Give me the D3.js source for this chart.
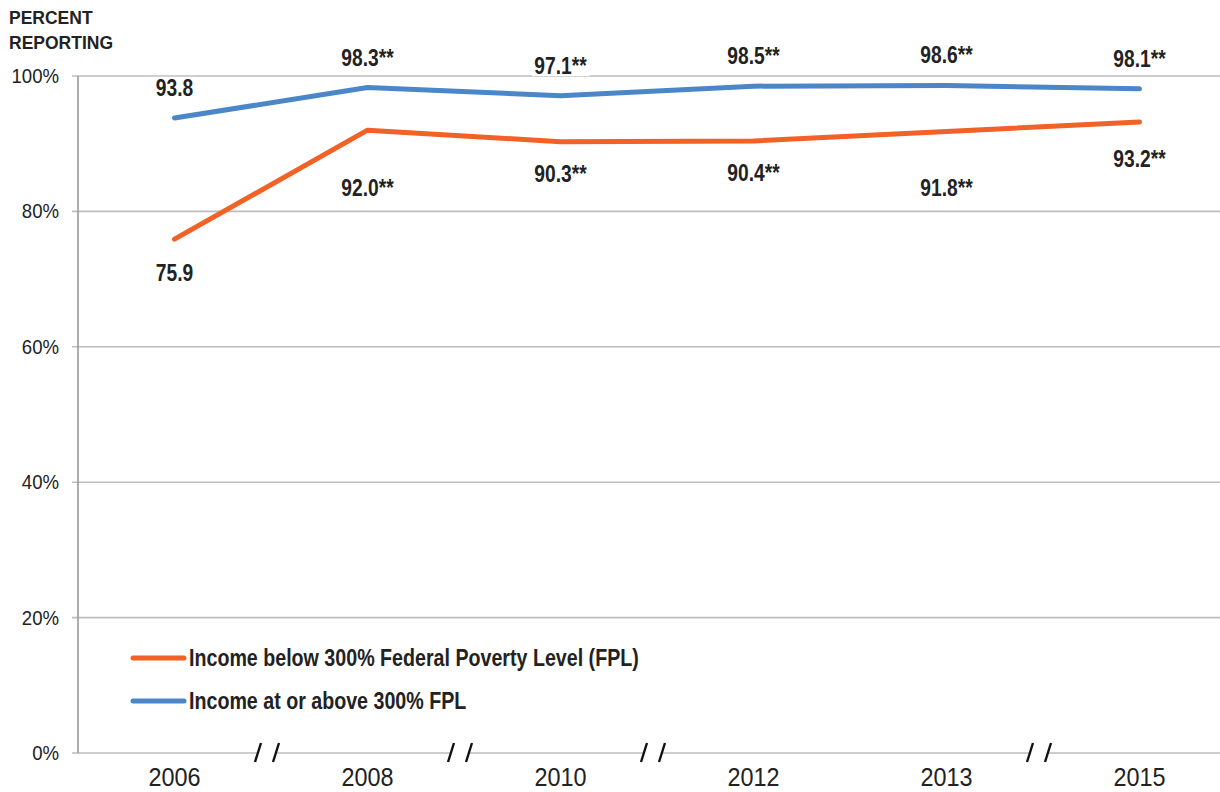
<!DOCTYPE html>
<html>
<head>
<meta charset="utf-8">
<script src="https://cdn.jsdelivr.net/npm/d3@7"></script>
<style>
  body { margin: 0; background: #fff; }
  svg { display: block; }
</style>
</head>
<body>
<svg id="chart"></svg>
<script>
// Chart data
const years = ['2006', '2008', '2010', '2012', '2013', '2015'];
const belowFPL = [75.9, 92.0, 90.3, 90.4, 91.8, 93.2];
const aboveFPL = [93.8, 98.3, 97.1, 98.5, 98.6, 98.1];
const belowLabels = ['75.9', '92.0**', '90.3**', '90.4**', '91.8**', '93.2**'];
const aboveLabels = ['93.8', '98.3**', '97.1**', '98.5**', '98.6**', '98.1**'];
const yTicks = [0, 20, 40, 60, 80, 100];
const seriesNames = ['Income below 300% Federal Poverty Level (FPL)', 'Income at or above 300% FPL'];
// year gaps shown with axis break marks (between index i and i+1)
const breaks = [0, 1, 2, 4];

// Layout
const W = 1220, H = 792;
const plotLeft = 78, plotBottom = 753, plotTop = 76;
const orange = '#F26125', blue = '#4A86C8';
const font = "'Liberation Sans', Arial, sans-serif";
// per-label vertical offset of the orange labels below their points
const belowDy = [33, 57, 31, 31, 55, 36];

const svg = d3.select('#chart')
  .attr('width', W)
  .attr('height', H);

// text squeezed horizontally to mimic the condensed face of the original
function narrowText(parent, x, y, str, size, sx, opts = {}) {
  const g = parent.append('g')
    .attr('transform', `translate(${x},${y}) scale(${sx},1)`);
  const t = g.append('text')
    .attr('text-anchor', opts.anchor || 'start')
    .style('font-family', font)
    .style('font-weight', opts.bold ? 'bold' : 'normal')
    .style('font-size', size + 'px')
    .style('fill', '#222')
    .text(str);
  if (opts.backing) {
    const bb = t.node().getBBox();
    g.insert('rect', 'text')
      .attr('x', bb.x - 3).attr('y', bb.y + 3)
      .attr('width', bb.width + 6).attr('height', bb.height - 6)
      .attr('fill', '#fff');
  }
  return g;
}

// Scales
const xScale = d3.scaleBand()
  .domain(years)
  .range([plotLeft, plotLeft + 193 * years.length]);
const xc = d => xScale(d) + xScale.bandwidth() / 2;

const yScale = d3.scaleLinear()
  .domain([0, 100])
  .range([plotBottom, plotTop]);

// Gridlines
svg.append('g')
  .selectAll('line')
  .data(yTicks)
  .enter().append('line')
  .attr('x1', plotLeft - 6)
  .attr('x2', W)
  .attr('y1', d => yScale(d))
  .attr('y2', d => yScale(d))
  .attr('stroke', '#bdbdbd')
  .attr('stroke-width', 1.6);

// Y axis line
svg.append('line')
  .attr('x1', plotLeft).attr('x2', plotLeft)
  .attr('y1', yScale(100)).attr('y2', yScale(0))
  .attr('stroke', '#9a9a9a')
  .attr('stroke-width', 1.6);

// Y tick labels
const yLab = svg.append('g');
yTicks.forEach(d => {
  narrowText(yLab, 59, yScale(d) + 7, d + '%', 20, 0.93, { anchor: 'end' });
});

// X labels
const xLab = svg.append('g');
years.forEach(d => {
  narrowText(xLab, xc(d), 786, d, 26, 0.9, { anchor: 'middle' });
});

// Axis break marks
const breakG = svg.append('g');
breaks.forEach(i => {
  const bx = xScale(years[i + 1]) - 4;
  breakG.append('rect')
    .attr('x', bx - 9).attr('y', plotBottom - 3)
    .attr('width', 18).attr('height', 6)
    .attr('fill', '#fff');
  [-9, 9].forEach(off => {
    breakG.append('line')
      .attr('x1', bx + off - 3).attr('y1', plotBottom + 9)
      .attr('x2', bx + off + 3).attr('y2', plotBottom - 10)
      .attr('stroke', '#111')
      .attr('stroke-width', 2.4);
  });
});

// Title
svg.append('text')
  .attr('x', 9).attr('y', 24)
  .style('font-family', font)
  .style('font-weight', 'bold')
  .style('font-size', '17.5px')
  .style('fill', '#222')
  .selectAll('tspan')
  .data(['PERCENT', 'REPORTING'])
  .enter().append('tspan')
  .attr('x', 9)
  .attr('dy', (d, i) => i === 0 ? 0 : 25)
  .text(d => d);

// Lines
const line = d3.line()
  .x((d, i) => xc(years[i]))
  .y(d => yScale(d));

[[belowFPL, orange], [aboveFPL, blue]].forEach(([vals, col]) => {
  svg.append('path')
    .datum(vals)
    .attr('d', line)
    .attr('fill', 'none')
    .attr('stroke', col)
    .attr('stroke-width', 5)
    .attr('stroke-linecap', 'round')
    .attr('stroke-linejoin', 'round');
});

// Data labels
const labG = svg.append('g');
aboveFPL.forEach((v, i) => {
  narrowText(labG, xc(years[i]), yScale(v) - 22, aboveLabels[i], 24, 0.8,
    { anchor: 'middle', bold: true, backing: true });
});
belowFPL.forEach((v, i) => {
  narrowText(labG, xc(years[i]), yScale(v) + belowDy[i] + 9, belowLabels[i], 24, 0.8,
    { anchor: 'middle', bold: true, backing: true });
});

// Legend
const legend = svg.append('g');
[orange, blue].forEach((col, i) => {
  const ly = 658 + i * 43;
  legend.append('line')
    .attr('x1', 133).attr('x2', 184)
    .attr('y1', ly).attr('y2', ly)
    .attr('stroke', col)
    .attr('stroke-width', 5)
    .attr('stroke-linecap', 'round');
  narrowText(legend, 189, ly + 8, seriesNames[i], 23, 0.855, { bold: true });
});
</script>
</body>
</html>
